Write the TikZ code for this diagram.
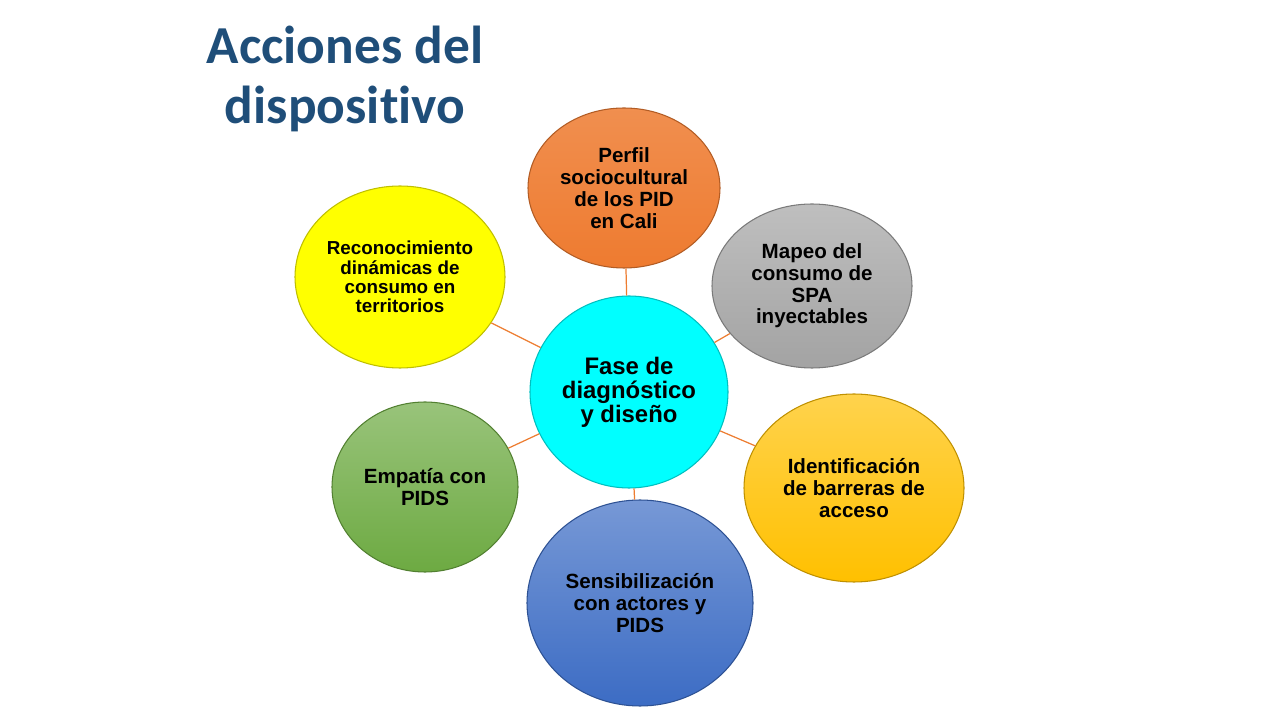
\documentclass[tikz,border=0pt]{standalone}
\usepackage{fontspec}
\setmainfont{Liberation Sans}
\newfontfamily\titlefont[Ligatures=NoCommon]{Carlito}
\usetikzlibrary{shapes.geometric}
\definecolor{titleblue}{HTML}{1F4E79}
\definecolor{linkorange}{HTML}{ED7D31}
\definecolor{cyanfill}{HTML}{00FFFF}
\definecolor{orangefill}{HTML}{EE7B30}
\definecolor{grayfill}{HTML}{A3A3A3}
\definecolor{goldfill}{HTML}{FFC000}
\definecolor{bluefill}{HTML}{3C6CC4}
\definecolor{greenfill}{HTML}{6DAA42}
\definecolor{yellowfill}{HTML}{FFFF00}
\tikzset{
  bubble/.style={ellipse, inner sep=0pt, align=center,
    font=\bfseries\fontsize{11.7}{12.4}\selectfont,
    draw=#1!75!black, line width=0.6pt,
    top color=#1!70!white, bottom color=#1},
  link/.style={draw=linkorange, line width=0.7pt}
}
\begin{document}
\begin{tikzpicture}
  \useasboundingbox (0,0) rectangle (25.6,14.4);
  \node[font=\titlefont\bfseries\fontsize{30.4}{34}\selectfont, text=titleblue, align=center] (title) at (6.9,12.82) {Acciones del\\dispositivo};
  % center and the six actions
  \node[bubble=cyanfill, top color=cyanfill, minimum width=3.96cm, minimum height=3.84cm,
    font=\bfseries\fontsize{13.6}{13.6}\selectfont] (fase) at (12.58,6.56) {Fase de\\diagnóstico\\y diseño};
  \node[bubble=orangefill, top color=orangefill!85!white, minimum width=3.84cm, minimum height=3.2cm] (perfil) at (12.48,10.64) {Perfil\\sociocultural\\de los PID\\en Cali};
  \node[bubble=grayfill, minimum width=4.0cm, minimum height=3.28cm] (mapeo) at (16.24,8.68) {Mapeo del\\consumo de\\SPA\\inyectables};
  \node[bubble=goldfill, minimum width=4.4cm, minimum height=3.76cm] (barreras) at (17.08,4.64) {Identificación\\de barreras de\\acceso};
  \node[bubble=bluefill, minimum width=4.52cm, minimum height=4.12cm] (sensib) at (12.8,2.34) {Sensibilización\\con actores y\\PIDS};
  \node[bubble=greenfill, minimum width=3.72cm, minimum height=3.4cm] (empatia) at (8.5,4.66) {Empatía con\\PIDS};
  \node[bubble=yellowfill, top color=yellowfill, minimum width=4.2cm, minimum height=3.64cm,
    font=\bfseries\fontsize{10.7}{11}\selectfont] (recon) at (8.0,8.86) {Reconocimiento\\dinámicas de\\consumo en\\territorios};
  \path[link] (fase) edge (perfil) edge (mapeo) edge (barreras)
    edge (sensib) edge (empatia) edge (recon);
\end{tikzpicture}
\end{document}
